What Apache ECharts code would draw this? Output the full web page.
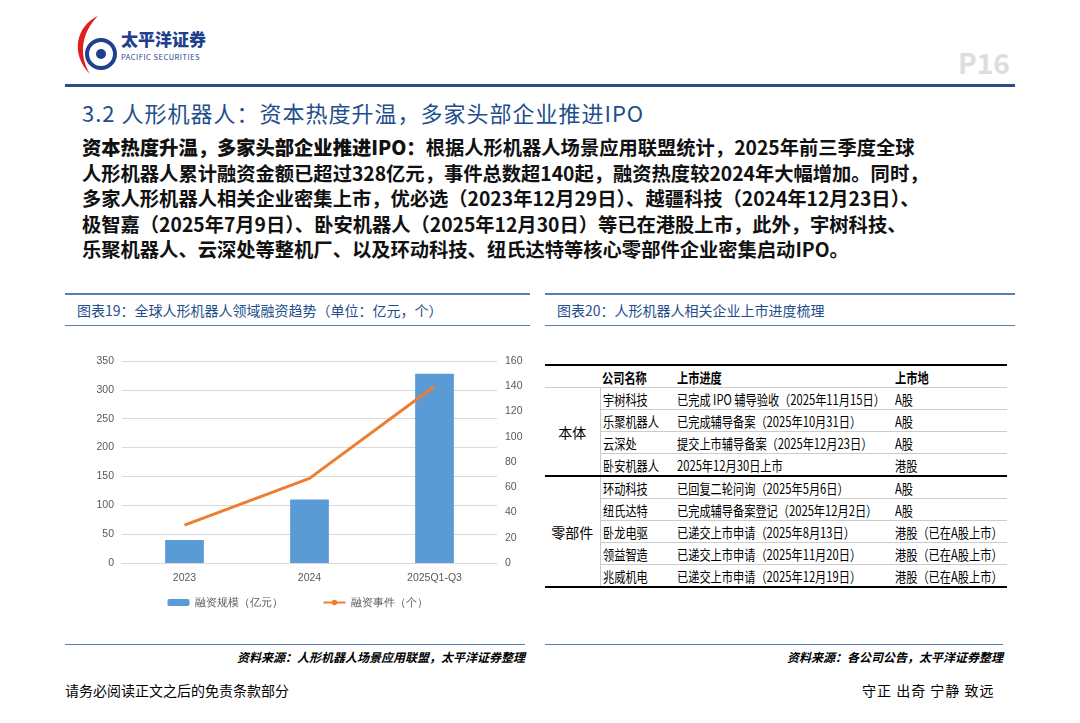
<!DOCTYPE html>
<html><head><meta charset="utf-8">
<script src="https://cdn.jsdelivr.net/npm/echarts@6/dist/echarts.min.js"></script>
<style>
body{margin:0;width:1080px;height:723px;background:#fff;font-family:"Noto Sans CJK SC","Noto Sans",sans-serif;position:relative;overflow:hidden;color:#000}
.abs{position:absolute}
.title{left:82px;top:96px;font-size:22px;color:#1F4E8C;letter-spacing:1px}
.para{left:82px;top:135px;font-size:19.3px;line-height:25.5px;font-weight:bold;color:#111;white-space:nowrap}
.para b{font-weight:900}
.ph{font-size:14px;color:#1F4E8C;border-top:2px solid #5a7fae;border-bottom:1px solid #5a7fae;height:30px;line-height:30px;padding-left:12px}
.src{font-size:12px;font-style:italic;font-weight:bold;text-align:right;border-top:1px solid #5a7fae;padding-top:3px}
table{border-collapse:collapse;font-size:14px;font-family:"Noto Sans CJK SC";table-layout:fixed}
td{border-bottom:1px solid #ccc;height:21px;padding:0 2px;white-space:nowrap;overflow:visible}
td span{display:inline-block;transform:scaleX(.8);transform-origin:left center}
</style></head><body>
<div class="abs" style="left:68px;top:14px;width:52px;height:62px">
<svg width="52" height="62"><path d="M30 2 C8 12 2 40 22 60 C10 40 14 18 30 2Z" fill="#e02020"/><circle cx="33" cy="40" r="14" fill="none" stroke="#1f3f8f" stroke-width="4"/><circle cx="33" cy="40" r="5" fill="#1f3f8f"/></svg></div>
<div class="abs" style="left:121px;top:29px;font-size:17px;line-height:20px;font-weight:900;color:#1f3f8f">太平洋证券</div>
<div class="abs" style="left:121px;top:52px;font-size:7.5px;line-height:9px;color:#1f3f8f;letter-spacing:.5px">PACIFIC SECURITIES</div>
<div class="abs" style="left:958px;top:42px;font-size:28px;font-weight:bold;color:#ddd">P16</div>
<div class="abs" style="left:65px;top:84px;width:950px;height:3px;background:#2c4f80"></div>
<div class="abs title">3.2 人形机器人：资本热度升温，多家头部企业推进IPO</div>
<div class="abs para"><b>资本热度升温，多家头部企业推进IPO：</b>根据人形机器人场景应用联盟统计，2025年前三季度全球<br>人形机器人累计融资金额已超过328亿元，事件总数超140起，融资热度较2024年大幅增加。同时，<br>多家人形机器人相关企业密集上市，优必选（2023年12月29日）、越疆科技（2024年12月23日）、<br>极智嘉（2025年7月9日）、卧安机器人（2025年12月30日）等已在港股上市，此外，宇树科技、<br>乐聚机器人、云深处等整机厂、以及环动科技、纽氏达特等核心零部件企业密集启动IPO。</div>
<div class="abs ph" style="left:65px;top:293px;width:453px">图表19：全球人形机器人领域融资趋势（单位：亿元，个）</div>
<div class="abs ph" style="left:545px;top:293px;width:458px">图表20：人形机器人相关企业上市进度梳理</div>
<div class="abs" id="c" style="left:65px;top:340px;width:465px;height:285px"></div>
<div class="abs" style="left:545px;top:364px;width:462px;border-top:2px solid #000;border-bottom:2px solid #000">
<table style="width:462px">
<col style="width:55px"><col style="width:75px"><col style="width:218px"><col>
<tr style="font-weight:bold"><td></td><td><span>公司名称</span></td><td><span>上市进度</span></td><td><span>上市地</span></td></tr>
<tr><td rowspan="4" style="text-align:center;border-bottom:2px solid #000;border-right:1px solid #ccc">本体</td><td><span>宇树科技</span></td><td><span>已完成 IPO 辅导验收（2025年11月15日）</span></td><td><span>A股</span></td></tr>
<tr><td><span>乐聚机器人</span></td><td><span>已完成辅导备案（2025年10月31日）</span></td><td><span>A股</span></td></tr>
<tr><td><span>云深处</span></td><td><span>提交上市辅导备案（2025年12月23日）</span></td><td><span>A股</span></td></tr>
<tr style="border-bottom:2px solid #000"><td><span>卧安机器人</span></td><td><span>2025年12月30日上市</span></td><td><span>港股</span></td></tr>
<tr><td rowspan="5" style="text-align:center;border-bottom:none;border-right:1px solid #ccc">零部件</td><td><span>环动科技</span></td><td><span>已回复二轮问询（2025年5月6日）</span></td><td><span>A股</span></td></tr>
<tr><td><span>纽氏达特</span></td><td><span>已完成辅导备案登记（2025年12月2日）</span></td><td><span>A股</span></td></tr>
<tr><td><span>卧龙电驱</span></td><td><span>已递交上市申请（2025年8月13日）</span></td><td><span>港股（已在A股上市）</span></td></tr>
<tr><td><span>领益智造</span></td><td><span>已递交上市申请（2025年11月20日）</span></td><td><span>港股（已在A股上市）</span></td></tr>
<tr><td style="border:none"><span>兆威机电</span></td><td style="border:none"><span>已递交上市申请（2025年12月19日）</span></td><td style="border:none"><span>港股（已在A股上市）</span></td></tr>
</table></div>
<div class="abs src" style="left:65px;top:644px;width:460px">资料来源：人形机器人场景应用联盟，太平洋证券整理</div>
<div class="abs src" style="left:545px;top:644px;width:458px">资料来源：各公司公告，太平洋证券整理</div>
<div class="abs" style="left:65px;top:680px;font-size:14px">请务必阅读正文之后的免责条款部分</div>
<div class="abs" style="left:862px;top:680px;font-size:14px;letter-spacing:1px">守正 出奇 宁静 致远</div>
<script>
const categories=['2023','2024','2025Q1-Q3'];
const fundingAmount=[40,110,328];
const fundingEvents=[30,67,140];
const ch=echarts.init(document.getElementById('c'));
const axLbl={color:'#595959',fontSize:10.5};
ch.setOption({
 animation:false,
 grid:{left:57,right:33,top:21,bottom:62},
 legend:{bottom:12,itemWidth:22,itemHeight:7,itemGap:40,textStyle:{color:'#595959',fontSize:11},data:['融资规模（亿元）','融资事件（个）']},
 xAxis:{type:'category',data:categories,axisTick:{show:false},axisLine:{lineStyle:{color:'#d9d9d9'}},axisLabel:Object.assign({margin:10},axLbl)},
 yAxis:[{type:'value',min:0,max:350,interval:50,axisLabel:axLbl,splitLine:{lineStyle:{color:'#d9d9d9'}}},
        {type:'value',min:0,max:160,interval:20,axisLabel:axLbl,splitLine:{show:false}}],
 series:[{name:'融资规模（亿元）',type:'bar',data:fundingAmount,barWidth:'31%',itemStyle:{color:'#5B9BD5'}},
         {name:'融资事件（个）',type:'line',yAxisIndex:1,data:fundingEvents,symbol:'none',lineStyle:{color:'#ED7D31',width:3},itemStyle:{color:'#ED7D31'}}]
});
</script></body></html>
